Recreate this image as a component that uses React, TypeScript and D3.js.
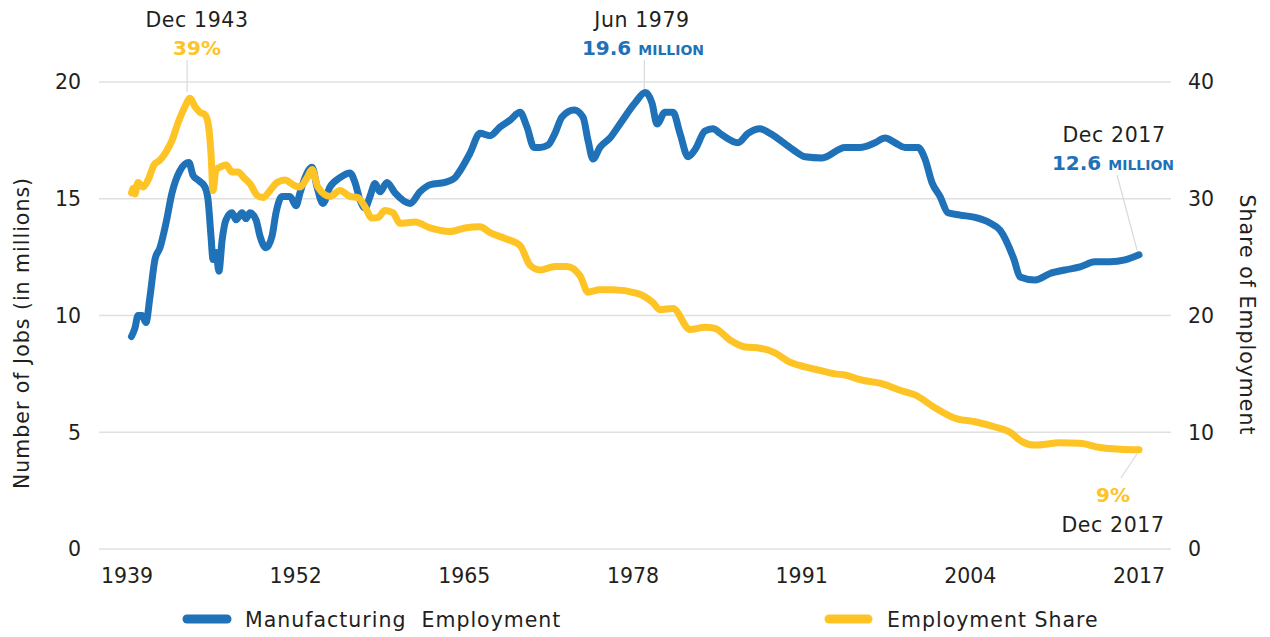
import React from "react";
import * as d3 from "d3";

// Manufacturing employment (millions)
const mfgYears = [1939.35, 1939.62, 1939.86, 1940.17, 1940.48, 1940.79, 1941.18, 1941.57, 1942.04, 1942.51, 1943.13, 1943.83, 1944.15, 1944.54, 1945.08, 1945.32, 1945.55, 1945.71, 1945.94, 1946.17, 1946.41, 1946.72, 1947.19, 1947.5, 1947.97, 1948.28, 1948.59, 1949.06, 1949.37, 1949.84, 1950.31, 1950.62, 1951.09, 1951.71, 1952.18, 1952.49, 1952.88, 1953.43, 1953.82, 1954.28, 1954.83, 1955.61, 1956.39, 1956.78, 1957.17, 1957.56, 1957.95, 1958.34, 1958.73, 1959.27, 1959.9, 1961.07, 1961.85, 1962.63, 1963.8, 1964.58, 1964.97, 1965.75, 1966.53, 1967.31, 1968.09, 1968.87, 1969.65, 1970.19, 1970.74, 1971.21, 1971.83, 1972.37, 1972.92, 1973.86, 1974.56, 1974.95, 1975.34, 1975.88, 1976.66, 1977.44, 1978.61, 1979.42, 1979.94, 1980.33, 1980.95, 1981.58, 1982.12, 1982.75, 1983.29, 1984.07, 1984.7, 1985.24, 1986.65, 1987.43, 1988.36, 1989.14, 1990.94, 1991.87, 1993.2, 1994.99, 1996.16, 1997.33, 1998.11, 1998.89, 1999.67, 2000.68, 2001.23, 2001.77, 2002.4, 2003.02, 2003.96, 2005.13, 2006.3, 2007.08, 2008.17, 2008.64, 2009.81, 2010.98, 2012.15, 2013.32, 2014.48, 2015.65, 2016.82, 2017.92];
const mfgValues = [9.1, 9.46, 10.0, 10.0, 9.7, 10.8, 12.4, 12.9, 13.96, 15.25, 16.2, 16.55, 16.0, 15.8, 15.5, 14.95, 13.4, 12.4, 12.7, 11.9, 13.2, 14.1, 14.4, 14.1, 14.4, 14.15, 14.4, 14.1, 13.4, 12.9, 13.4, 14.4, 15.1, 15.1, 14.7, 15.25, 15.9, 16.35, 15.5, 14.8, 15.5, 15.9, 16.1, 15.7, 14.95, 14.6, 15.1, 15.65, 15.3, 15.7, 15.25, 14.8, 15.3, 15.6, 15.7, 15.9, 16.2, 16.95, 17.8, 17.7, 18.07, 18.37, 18.7, 18.07, 17.2, 17.2, 17.3, 17.8, 18.5, 18.8, 18.5, 17.5, 16.7, 17.2, 17.6, 18.2, 19.1, 19.55, 19.1, 18.2, 18.7, 18.7, 17.8, 16.8, 17.1, 17.9, 18.0, 17.8, 17.4, 17.8, 18.0, 17.8, 17.1, 16.8, 16.75, 17.2, 17.2, 17.4, 17.6, 17.4, 17.2, 17.2, 16.7, 15.7, 15.1, 14.4, 14.3, 14.2, 13.96, 13.66, 12.4, 11.65, 11.52, 11.8, 11.95, 12.08, 12.3, 12.3, 12.38, 12.6];

// Manufacturing share of employment (%)
const shareYears = [1939.35, 1939.5, 1939.62, 1939.86, 1940.25, 1940.64, 1941.11, 1941.57, 1942.04, 1942.51, 1942.98, 1943.52, 1943.92, 1944.3, 1944.69, 1945.08, 1945.32, 1945.55, 1945.71, 1945.94, 1946.25, 1946.72, 1947.19, 1947.66, 1948.12, 1948.59, 1949.14, 1949.61, 1950.15, 1950.7, 1951.32, 1951.94, 1952.49, 1953.04, 1953.43, 1953.89, 1954.83, 1955.61, 1956.39, 1957.01, 1957.56, 1958.1, 1958.57, 1959.12, 1959.74, 1960.29, 1961.46, 1962.63, 1964.19, 1965.36, 1966.53, 1967.31, 1968.48, 1969.65, 1970.43, 1971.21, 1972.37, 1973.31, 1974.33, 1974.95, 1975.88, 1976.9, 1978.77, 1980.02, 1980.56, 1981.58, 1982.9, 1984.07, 1984.85, 1986.02, 1987.19, 1988.36, 1989.53, 1990.7, 1991.87, 1993.04, 1994.21, 1994.99, 1996.16, 1997.72, 1999.28, 2000.45, 2002.01, 2003.57, 2005.13, 2006.69, 2007.86, 2008.79, 2009.81, 2011.76, 2013.32, 2014.87, 2016.43, 2017.92];
const shareValues = [30.5, 30.9, 30.4, 31.4, 31.0, 31.6, 32.9, 33.3, 34.0, 35.0, 36.5, 37.9, 38.6, 37.9, 37.4, 37.2, 36.5, 33.9, 30.7, 32.5, 32.7, 32.9, 32.3, 32.3, 31.8, 31.3, 30.3, 30.1, 30.7, 31.4, 31.6, 31.2, 31.0, 31.8, 32.5, 31.0, 30.2, 30.7, 30.2, 30.1, 29.3, 28.35, 28.4, 29.0, 28.8, 27.9, 28.0, 27.5, 27.2, 27.5, 27.6, 27.1, 26.6, 26.0, 24.3, 23.9, 24.2, 24.2, 23.4, 22.0, 22.2, 22.2, 21.9, 21.1, 20.5, 20.6, 18.8, 19.0, 18.9, 17.9, 17.3, 17.2, 16.8, 16.0, 15.6, 15.3, 15.0, 14.9, 14.5, 14.2, 13.6, 13.2, 12.1, 11.2, 10.9, 10.45, 10.0, 9.2, 8.9, 9.1, 9.05, 8.7, 8.55, 8.5];

const xTickLabels = ["1939", "1952", "1965", "1978", "1991", "2004", "2017"];
const leftTicks = [0, 5, 10, 15, 20];
const rightTicks = [0, 10, 20, 30, 40];

const BLUE = "#1f71b8";
const YELLOW = "#fec324";
const TEXT = "#231f20";
const FONT = "'DejaVu Sans', Lato, sans-serif";

export default function App() {
  const W = 1270;
  const H = 637;
  const x = d3.scaleLinear().domain([1939, 2017.917]).range([127, 1139]);
  const yL = d3.scaleLinear().domain([0, 20]).range([549, 82]);
  const yR = d3.scaleLinear().domain([0, 40]).range([549, 82]);
  const [d0, d1] = x.domain();
  const tickPos = xTickLabels.map((_, i) => x(d0 + (i * (d1 - d0)) / (xTickLabels.length - 1)));

  const mfgLine = d3
    .line<number>()
    .x((_, i) => x(mfgYears[i]))
    .y((v) => yL(v))
    .curve(d3.curveMonotoneX);
  const shareLine = d3
    .line<number>()
    .x((_, i) => x(shareYears[i]))
    .y((v) => yR(v))
    .curve(d3.curveMonotoneX);

  const peakShareIdx = shareValues.indexOf(Math.max(...shareValues));
  const peakMfgIdx = mfgValues.indexOf(Math.max(...mfgValues));
  const lastM = mfgValues.length - 1;
  const lastS = shareValues.length - 1;

  const ts = { fontFamily: FONT, fontSize: 20.5, fill: TEXT } as const;
  const ws = { ...ts, letterSpacing: 1 } as const;
  const ds = { ...ts, letterSpacing: 0.6 } as const;
  const bs = { fontFamily: FONT, fontSize: 20, fontWeight: 700 } as const;

  return (
    <svg
      width={W}
      height={H}
      style={{ position: "absolute", left: 0, top: 0, background: "#fff" }}
    >
      {/* gridlines */}
      {leftTicks.map((t) => (
        <line key={t} x1={99} x2={1171} y1={yL(t)} y2={yL(t)} stroke="#e0e0e0" strokeWidth={1.5} />
      ))}
      {/* left ticks */}
      {leftTicks.map((t) => (
        <text key={"l" + t} x={81} y={yL(t)} dy="0.36em" textAnchor="end" {...ts}>
          {t}
        </text>
      ))}
      {/* right ticks */}
      {rightTicks.map((t) => (
        <text key={"r" + t} x={1188} y={yR(t)} dy="0.36em" textAnchor="start" {...ts}>
          {t}
        </text>
      ))}
      {/* x ticks */}
      {xTickLabels.map((l, i) => (
        <text key={l} x={tickPos[i]} y={583} textAnchor="middle" {...ts}>
          {l}
        </text>
      ))}
      {/* axis titles */}
      <text transform="translate(29,333) rotate(-90)" textAnchor="middle" {...ws}>
        Number of Jobs (in millions)
      </text>
      <text transform="translate(1240,315) rotate(90)" textAnchor="middle" {...ws}>
        Share of Employment
      </text>

      {/* annotation leader lines */}
      <line x1={x(shareYears[peakShareIdx]) - 3} x2={x(shareYears[peakShareIdx]) - 3} y1={60} y2={92} stroke="#d9d9d9" strokeWidth={1.2} />
      <line x1={x(mfgYears[peakMfgIdx]) - 1} x2={x(mfgYears[peakMfgIdx]) - 1} y1={60} y2={92} stroke="#d9d9d9" strokeWidth={1.2} />
      <line x1={1117} y1={175} x2={x(mfgYears[lastM]) - 2} y2={yL(mfgValues[lastM]) - 5} stroke="#d9d9d9" strokeWidth={1.2} />
      <line x1={1121} y1={478} x2={x(shareYears[lastS]) - 2} y2={yR(shareValues[lastS]) + 4} stroke="#d9d9d9" strokeWidth={1.2} />

      {/* lines */}
      <path d={mfgLine(mfgValues) || ""} fill="none" stroke={BLUE} strokeWidth={7} strokeLinejoin="round" strokeLinecap="round" />
      <path d={shareLine(shareValues) || ""} fill="none" stroke={YELLOW} strokeWidth={7} strokeLinejoin="round" strokeLinecap="round" />

      {/* annotations */}
      <text x={197} y={27} textAnchor="middle" {...ds}>Dec 1943</text>
      <text x={197} y={55} textAnchor="middle" {...bs} fill={YELLOW}>39%</text>

      <text x={642} y={27} textAnchor="middle" {...ds}>Jun 1979</text>
      <text x={643} y={55} textAnchor="middle" {...bs} fill={BLUE}>
        19.6 <tspan fontSize={14}>MILLION</tspan>
      </text>

      <text x={1114} y={142} textAnchor="middle" {...ds}>Dec 2017</text>
      <text x={1113} y={170} textAnchor="middle" {...bs} fill={BLUE}>
        12.6 <tspan fontSize={14}>MILLION</tspan>
      </text>

      <text x={1113} y={502} textAnchor="middle" {...bs} fill={YELLOW}>9%</text>
      <text x={1113} y={532} textAnchor="middle" {...ds}>Dec 2017</text>

      {/* legend */}
      <line x1={187} x2={227} y1={619} y2={619} stroke={BLUE} strokeWidth={9} strokeLinecap="round" />
      <text x={245} y={627} {...ws} style={{ whiteSpace: "pre" }}>Manufacturing  Employment</text>
      <line x1={829} x2={868} y1={619} y2={619} stroke={YELLOW} strokeWidth={9} strokeLinecap="round" />
      <text x={887} y={627} {...ws}>Employment Share</text>
    </svg>
  );
}
